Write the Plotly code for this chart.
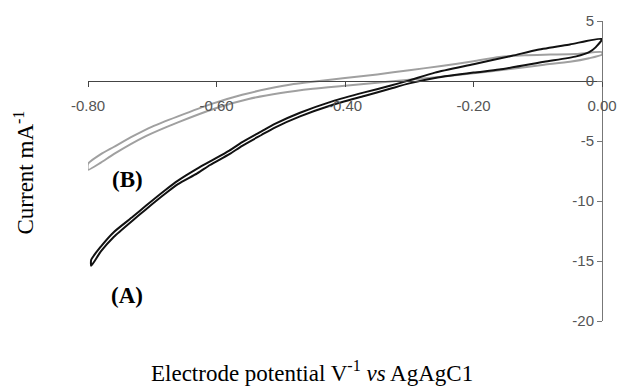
import plotly.graph_objects as go

# Curve (A): cyclic voltammogram loop (black)
a_potential = [-0.795, -0.78, -0.76, -0.73, -0.71, -0.68, -0.66, -0.63, -0.61, -0.58, -0.56, -0.53,
               -0.51, -0.47, -0.42, -0.37, -0.33, -0.30,
               -0.26, -0.20, -0.14, -0.10, -0.05, 0.0,
               -0.01, -0.02, -0.04, -0.09, -0.16, -0.20, -0.26, -0.30, -0.33, -0.37, -0.42,
               -0.47, -0.51, -0.53, -0.56, -0.58, -0.61, -0.63, -0.66, -0.68, -0.71, -0.73,
               -0.76, -0.78, -0.795, -0.795]
a_current = [-14.9, -13.8, -12.6, -11.3, -10.4, -9.1, -8.3, -7.3, -6.7, -5.8, -5.1, -4.2,
             -3.6, -2.65, -1.7, -0.95, -0.4, 0.05,
             0.7, 1.4, 2.1, 2.6, 3.05, 3.5,
             2.8, 2.4, 2.05, 1.6, 0.95, 0.7, 0.25, -0.2, -0.65, -1.25, -2.0,
             -2.95, -3.9, -4.5, -5.4, -6.1, -7.0, -7.7, -8.6, -9.4, -10.7, -11.6,
             -13.0, -14.2, -15.4, -14.9]

# Curve (B): cyclic voltammogram loop (grey)
b_potential = [-0.80, -0.78, -0.76, -0.73, -0.70, -0.66, -0.61, -0.56, -0.52, -0.48, -0.44, -0.40,
               -0.35, -0.30, -0.25, -0.20, -0.16, -0.12, -0.08, -0.04, 0.0,
               0.0, -0.02, -0.05, -0.09, -0.15, -0.20, -0.25, -0.30, -0.35, -0.40, -0.45,
               -0.50, -0.55, -0.60, -0.66, -0.71, -0.76, -0.78, -0.80, -0.80]
b_current = [-6.9, -6.1, -5.5, -4.6, -3.8, -2.95, -1.95, -1.15, -0.65, -0.25, 0.0, 0.25,
             0.55, 0.9, 1.25, 1.65, 2.0, 2.15, 2.2, 2.25, 2.4,
             2.2, 1.9, 1.6, 1.35, 0.95, 0.65, 0.35, 0.1, -0.15, -0.4, -0.65,
             -1.0, -1.5, -2.25, -3.45, -4.6, -6.1, -6.8, -7.4, -6.9]

x_tickvals = [-0.8, -0.6, -0.4, -0.2, 0.0]
x_ticktext = ["-0.80", "-0.60", "-0.40", "-0.20", "0.00"]
y_tickvals = [5, 0, -5, -10, -15, -20]
y_ticktext = ["5", "0", "-5", "-10", "-15", "-20"]

fig = go.Figure()
fig.add_trace(go.Scatter(x=b_potential, y=b_current, mode="lines", line_shape="spline",
                         line=dict(color="#a0a0a0", width=2, smoothing=0.6), showlegend=False,
                         cliponaxis=False))
fig.add_trace(go.Scatter(x=a_potential, y=a_current, mode="lines", line_shape="spline",
                         line=dict(color="#111111", width=2, smoothing=0.6), showlegend=False,
                         cliponaxis=False))

tick_font = dict(family="Liberation Sans, Arial, sans-serif", size=15, color="#555555")
serif = "Liberation Serif, Times New Roman, serif"

fig.update_layout(
    width=629, height=387,
    margin=dict(l=88, r=19, t=20, b=66),
    paper_bgcolor="white", plot_bgcolor="white",
    xaxis=dict(range=[-0.8, 0.0], tickvals=x_tickvals, ticktext=x_ticktext,
               showgrid=False, zeroline=False, showline=True, linecolor="#444444", linewidth=1,
               ticks="outside", ticklen=5, tickcolor="#444444",
               anchor="free", position=0.8, side="bottom",
               ticklabelstandoff=6, tickfont=tick_font),
    yaxis=dict(range=[-20, 5], tickvals=y_tickvals, ticktext=y_ticktext,
               showgrid=False, zeroline=False, showline=True, linecolor="#777777", linewidth=1,
               ticks="outside", ticklen=5, tickcolor="#777777",
               anchor="free", position=1.0, side="left", tickfont=tick_font),
)

fig.add_annotation(text="<b>(B)</b>", x=-0.739, y=-8.2, xref="x", yref="y",
                   showarrow=False, font=dict(family=serif, size=23, color="black"))
fig.add_annotation(text="<b>(A)</b>", x=-0.739, y=-17.9, xref="x", yref="y",
                   showarrow=False, font=dict(family=serif, size=23, color="black"))
fig.add_annotation(text="Electrode potential V<sup>-1</sup> <i>vs</i> AgAgC1",
                   x=0.435, y=-0.169, xref="paper", yref="paper", xanchor="center", yanchor="middle",
                   showarrow=False, font=dict(family=serif, size=23, color="black"))
fig.add_annotation(text="Current mA<sup>-1</sup>", textangle=-90,
                   x=-0.1245, y=0.495, xref="paper", yref="paper", xanchor="center", yanchor="middle",
                   showarrow=False, font=dict(family=serif, size=23, color="black"))

fig.write_html("out.html")
